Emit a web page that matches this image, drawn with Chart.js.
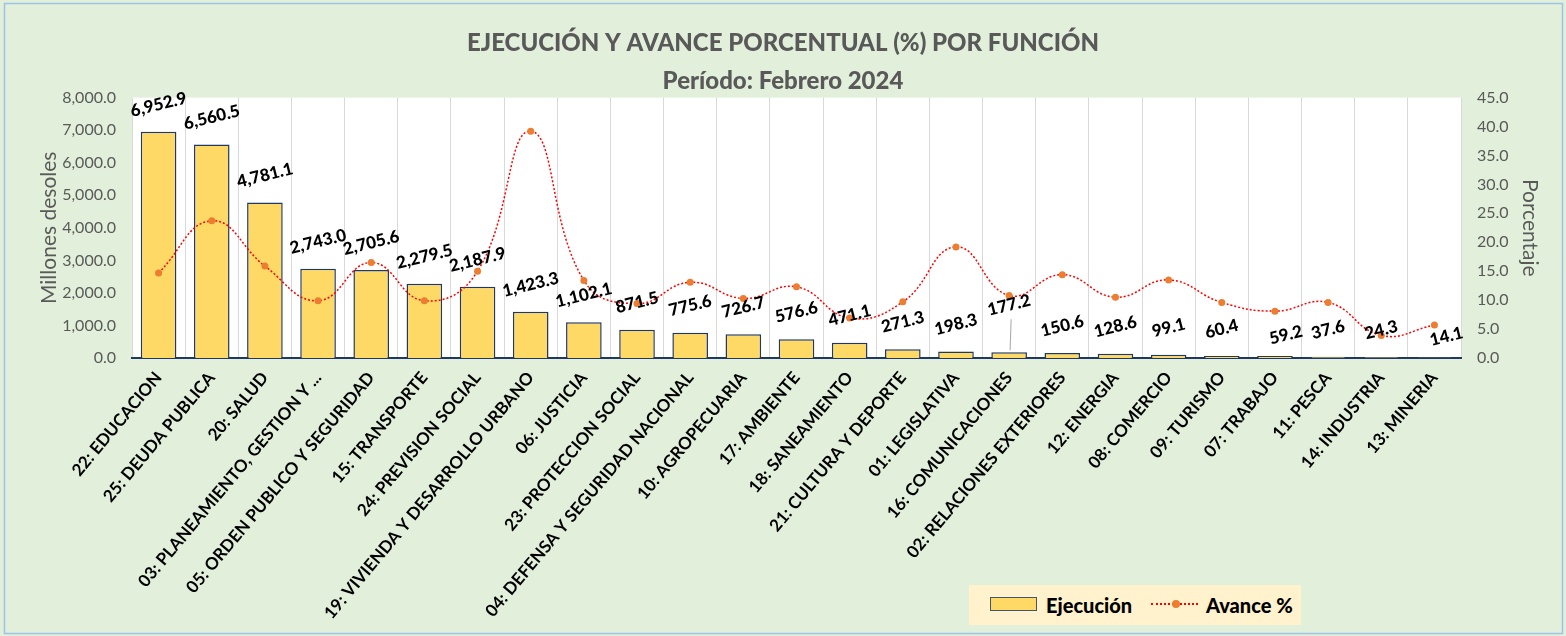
<!DOCTYPE html>
<html>
<head>
<meta charset="utf-8">
<script src="https://cdn.jsdelivr.net/npm/chart.js@4.4.1/dist/chart.umd.min.js"></script>
<style>
  body { margin: 0; background: #E2EFDA; }
  #wrap { position: relative; width: 1566px; height: 636px; }
  #legend {
    position: absolute; left: 969px; top: 585px; width: 332px; height: 40px;
    background: #FFF2CC; font-family: Lato, sans-serif; white-space: nowrap;
    font-weight: 900; font-size: 20px; color: #000;
  }
  #legend .sw { position: absolute; left: 21px; top: 12px; width: 45px; height: 12px; background: #FFD966; border: 1.5px solid #44546A; }
  #legend .t1 { position: absolute; left: 77px; top: 8px; }
  #legend .ln { position: absolute; left: 182px; top: 18px; width: 47px; border-top: 2px dotted #FF0000; }
  #legend .dot { position: absolute; left: 203px; top: 15px; width: 8px; height: 8px; border-radius: 50%; background: #ED7D31; }
  #legend .t2 { position: absolute; left: 237px; top: 8px; }
</style>
</head>
<body>
<div id="wrap">
  <canvas id="chart" width="1566" height="636"></canvas>
  <div id="legend">
    <div class="sw"></div><span class="t1">Ejecución</span>
    <div class="ln"></div><div class="dot"></div><span class="t2">Avance %</span>
  </div>
</div>
<script>
const funciones = [
  '22: EDUCACION', '25: DEUDA PUBLICA', '20: SALUD', '03: PLANEAMIENTO, GESTION Y ...',
  '05: ORDEN PUBLICO Y SEGURIDAD', '15: TRANSPORTE', '24: PREVISION SOCIAL',
  '19: VIVIENDA Y DESARROLLO URBANO', '06: JUSTICIA', '23: PROTECCION SOCIAL',
  '04: DEFENSA Y SEGURIDAD NACIONAL', '10: AGROPECUARIA', '17: AMBIENTE', '18: SANEAMIENTO',
  '21: CULTURA Y DEPORTE', '01: LEGISLATIVA', '16: COMUNICACIONES', '02: RELACIONES EXTERIORES',
  '12: ENERGIA', '08: COMERCIO', '09: TURISMO', '07: TRABAJO', '11: PESCA', '14: INDUSTRIA', '13: MINERIA'
]
const ejecucion = [
  6952.9, 6560.5, 4781.1, 2743.0, 2705.6, 2279.5, 2187.9, 1423.3, 1102.1, 871.5, 775.6, 726.7,
  576.6, 471.1, 271.3, 198.3, 177.2, 150.6, 128.6, 99.1, 60.4, 59.2, 37.6, 24.3, 14.1
]
const avance = [
  14.7, 23.7, 15.9, 9.9, 16.5, 9.9, 15.0, 39.2, 13.4, 9.4, 13.1, 10.3,
  12.3, 6.9, 9.7, 19.2, 10.8, 14.4, 10.5, 13.5, 9.6, 8.1, 9.6, 3.9, 5.7
]

const FONT = "Lato, sans-serif"
const GRAY = '#595959'

const fmt = v => v.toLocaleString('en-US', { minimumFractionDigits: 1, maximumFractionDigits: 1 })

// label nudges where the original had labels moved by hand
const labelShift = { 16: { dy: -20, leader: true }, 21: { dx: 11, dy: 6 }, 24: { dx: 12, dy: 6 } }

const background = {
  id: 'background',
  beforeDraw(chart) {
    const c = chart.ctx
    const a = chart.chartArea
    c.save()
    c.fillStyle = '#E2EFDA'
    c.fillRect(0, 0, chart.width, chart.height)
    c.fillStyle = '#FFFFFF'
    c.fillRect(a.left, a.top, a.right - a.left, a.bottom - a.top)
    c.strokeStyle = '#9DC3E6'
    c.lineWidth = 1.5
    c.strokeRect(4.5, 3.5, chart.width - 8, chart.height - 6)
    c.restore()
  }
}

const valueLabels = {
  id: 'valueLabels',
  afterDatasetsDraw(chart) {
    const meta = chart.getDatasetMeta(1)
    const c = chart.ctx
    c.save()
    c.font = '900 17px ' + FONT
    c.fillStyle = '#000'
    c.textAlign = 'center'
    c.textBaseline = 'middle'
    meta.data.forEach((bar, i) => {
      const s = labelShift[i] || {}
      const x = bar.x + (s.dx || 0)
      const y = bar.y - 27 + (s.dy || 0)
      if (s.leader) {
        c.strokeStyle = '#A6A6A6'
        c.lineWidth = 1
        c.beginPath()
        c.moveTo(bar.x + 1, bar.y - 2)
        c.lineTo(x + 2, y + 14)
        c.stroke()
      }
      c.save()
      c.translate(x, y)
      c.rotate(-14 * Math.PI / 180)
      c.fillText(fmt(ejecucion[i]), 0, 0)
      c.restore()
    })
    c.restore()
  }
}

new Chart(document.getElementById('chart'), {
  data: {
    labels: funciones,
    datasets: [{
      type: 'line',
      label: 'Avance %',
      data: avance,
      yAxisID: 'y1',
      order: 0,
      borderColor: '#FF0000',
      borderWidth: 1.5,
      borderDash: [2, 2],
      tension: 0.45,
      pointRadius: 3.5,
      pointBackgroundColor: '#ED7D31',
      pointBorderColor: '#ED7D31',
      pointBorderWidth: 0
    }, {
      type: 'bar',
      label: 'Ejecución',
      data: ejecucion,
      yAxisID: 'y',
      order: 1,
      backgroundColor: '#FFD966',
      borderColor: '#203864',
      borderWidth: 1.5,
      categoryPercentage: 1,
      barPercentage: 0.67
    }]
  },
  options: {
    responsive: false,
    animation: false,
    layout: { padding: 0 },
    plugins: {
      legend: { display: false },
      tooltip: { enabled: false },
      title: {
        display: true,
        text: 'EJECUCIÓN Y AVANCE PORCENTUAL (%) POR FUNCIÓN',
        color: GRAY,
        font: { family: FONT, size: 24, weight: 900 },
        padding: { top: 29, bottom: 0 }
      },
      subtitle: {
        display: true,
        text: 'Período: Febrero 2024',
        color: GRAY,
        font: { family: FONT, size: 24, weight: 900 },
        padding: { top: 9, bottom: 2 }
      }
    },
    scales: {
      x: {
        grid: { color: '#D9D9D9', drawTicks: false },
        border: { color: '#1F3864', width: 2 },
        ticks: {
          autoSkip: false, minRotation: 50, maxRotation: 50, padding: 10,
          color: '#000', font: { family: FONT, size: 17, weight: 'bold' }
        },
        afterFit: s => { s.height = 278 }
      },
      y: {
        position: 'left',
        min: 0, max: 8000,
        grid: { display: false, drawTicks: false },
        border: { display: false },
        ticks: { stepSize: 1000, padding: 16, color: GRAY, font: { family: FONT, size: 16 }, callback: v => fmt(v) },
        title: {
          display: true, text: 'Millones desoles', color: GRAY,
          font: { family: FONT, size: 21 }, padding: { top: 37 }
        },
        afterFit: s => { s.width = 132 }
      },
      y1: {
        position: 'right',
        min: 0, max: 45,
        grid: { display: false, drawTicks: false },
        border: { display: false },
        ticks: { stepSize: 5, padding: 16, color: GRAY, font: { family: FONT, size: 16 }, callback: v => v.toFixed(1) },
        title: {
          display: true, text: 'Porcentaje', color: GRAY,
          font: { family: FONT, size: 21 }, padding: { top: 24 }
        },
        afterFit: s => { s.width = 105 }
      }
    }
  },
  plugins: [background, valueLabels]
})
</script>
</body>
</html>
